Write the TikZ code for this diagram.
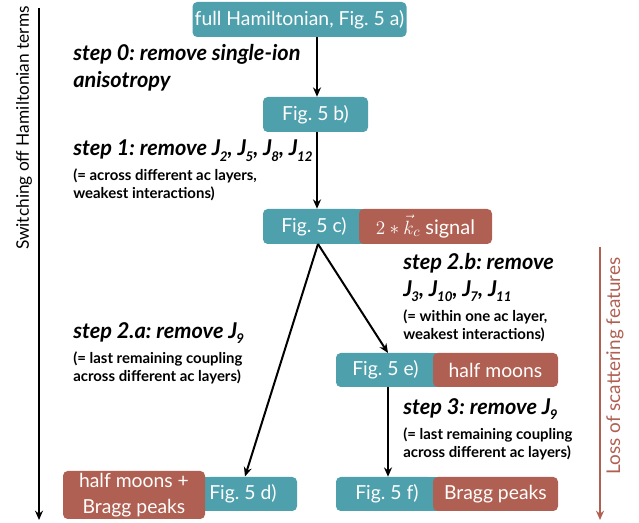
\documentclass[tikz,border=0pt]{standalone}
\usepackage{fontspec}
\setmainfont{Lato}
\usetikzlibrary{arrows.meta}
\definecolor{tealbox}{RGB}{78,160,173}
\definecolor{brownbox}{RGB}{176,96,82}
\newcommand\Jsub[1]{J\kern-0.6pt\raisebox{-0.5ex}{\fontsize{10}{11}\selectfont #1}}
\frenchspacing
\begin{document}
\begin{tikzpicture}[x=0.75pt,y=-0.75pt,
  tbox/.style={fill=tealbox,rounded corners=3.5pt,inner sep=0pt,text=white,font=\fontsize{14.5}{16}\selectfont},
  bbox/.style={fill=brownbox,rounded corners=3.5pt,inner sep=0pt,text=white,font=\fontsize{14.5}{16}\selectfont},
  boxtext/.style={anchor=west,inner sep=0pt,text=white,font=\fontsize{14.5}{16}\selectfont},
  steplabel/.style={anchor=north west,inner sep=0pt,align=left,font=\fontsize{16.3}{20}\selectfont\bfseries\itshape},
  note/.style={anchor=north west,inner sep=0pt,align=left,font=\fontsize{11.2}{13.5}\selectfont\bfseries},
  conn/.style={line width=1.5pt,-{Stealth[length=7pt,width=6pt]}}]
\useasboundingbox (0,0) rectangle (639,523);
% boxes
\node[tbox,minimum width=214*0.75pt,minimum height=35*0.75pt] (a) at (299.5,19.5) {full Hamiltonian, Fig. 5 a)};
\node[tbox,minimum width=105*0.75pt,minimum height=35*0.75pt] (b) at (315.5,114.5) {Fig. 5 b)};
% Fig 5 c) + signal
\fill[tealbox] (352,209) rectangle (366,244);
\node[tbox,minimum width=97*0.75pt,minimum height=35*0.75pt] (c) at (311.5,226.5) {};
\node[boxtext] (ct) at (281,226.5) {Fig. 5 c)};
\node[bbox,minimum width=133*0.75pt,minimum height=35*0.75pt,font=\fontsize{15}{16}\selectfont] (cs) at (425.5,226.5) {$2\ast\vec{k}_c$ signal};
% Fig 5 e)
\fill[tealbox] (426,353) rectangle (440,387);
\node[tbox,minimum width=97*0.75pt,minimum height=34*0.75pt] (e) at (384.5,370) {};
\node[boxtext] (et) at (352,370) {Fig. 5 e)};
\node[bbox,minimum width=125*0.75pt,minimum height=34*0.75pt] (es) at (495.5,370) {half moons};
% Fig 5 f)
\fill[tealbox] (426,477) rectangle (440,511);
\node[tbox,minimum width=97*0.75pt,minimum height=34*0.75pt] (f) at (384.5,494) {};
\node[boxtext] (ft) at (355,494) {Fig. 5 f)};
\node[bbox,minimum width=125*0.75pt,minimum height=34*0.75pt] (fs) at (495.5,494) {Bragg peaks};
% Fig 5 d)
\fill[tealbox] (198,477) rectangle (212,511);
\node[tbox,minimum width=92*0.75pt,minimum height=34*0.75pt] (d) at (251,494) {};
\node[boxtext] (dt) at (209,494) {Fig. 5 d)};
\node[bbox,minimum width=142*0.75pt,minimum height=48*0.75pt,align=center,font=\fontsize{14.5}{19}\selectfont] (ds) at (134,495) {half moons +\\Bragg peaks};
% connectors
\coordinate (cb) at (318,244);
\coordinate (ax) at (317,0);
\draw[conn] (a.south -| ax) -- (b.north -| ax);
\draw[conn] (b.south -| ax) -- (c.north -| ax);
\draw[conn] (cb) -- (245,476.5) coordinate (dtip);
\draw[conn] (cb) -- (388,353) coordinate (etip);
\coordinate (ex) at (388,0);
\draw[conn] (e.south -| ex) -- (f.north -| ex);
% side arrows
\coordinate (l1) at (39,8);
\coordinate (l2) at (39,520);
\draw[conn,line width=1.3pt] (l1) -- (l2);
\node[rotate=90,font=\fontsize{13}{15}\selectfont] (lt) at (24,128) {Switching off Hamiltonian terms};
\coordinate (r1) at (600,247);
\coordinate (r2) at (600,520);
\draw[conn,line width=1.3pt,color=brownbox] (r1) -- (r2);
\node[rotate=90,font=\fontsize{14.2}{16}\selectfont,text=brownbox] (rt) at (615,366) {Loss of scattering features};
% labels
\node[steplabel] (s0) at (73,44) {step 0: remove single-ion\\anisotropy};
\node[steplabel] (s1) at (73,140) {step 1: remove \Jsub{2}, \Jsub{5}, \Jsub{8}, \Jsub{12}};
\node[note] (n1) at (73,169) {(= across different ac layers,\\weakest interactions)};
\node[steplabel] (s2a) at (73,322) {step 2.a: remove \Jsub{9}};
\node[note] (n2a) at (73,352) {(= last remaining coupling\\across different ac layers)};
\node[steplabel] (s2b) at (403,253) {step 2.b: remove\\\Jsub{3}, \Jsub{10}, \Jsub{7}, \Jsub{11}};
\node[note] (n2b) at (403,310) {(= within one ac layer,\\weakest interactions)};
\node[steplabel] (s3) at (403,398) {step 3: remove \Jsub{9}};
\node[note] (n3) at (403,428) {(= last remaining coupling\\across different ac layers)};
\end{tikzpicture}
\end{document}
